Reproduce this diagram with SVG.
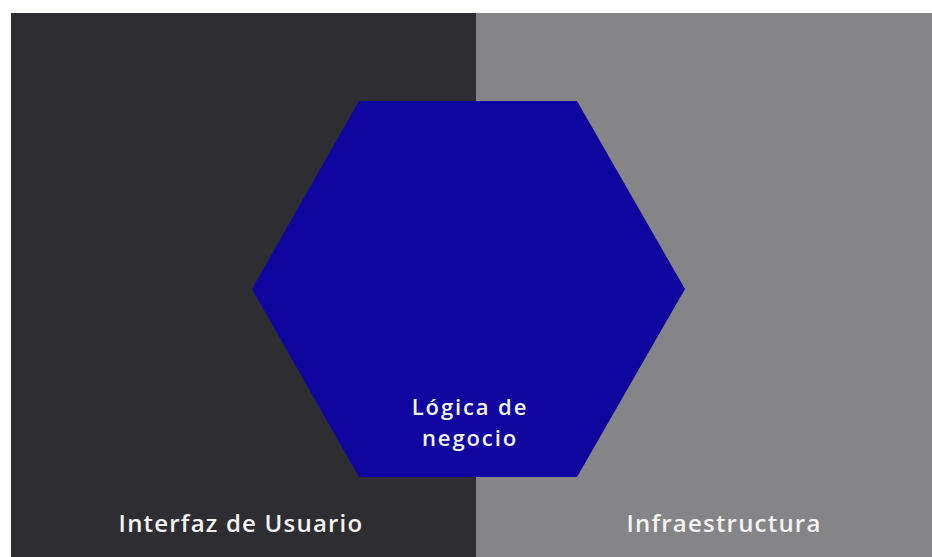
<svg xmlns="http://www.w3.org/2000/svg" width="932" height="557" viewBox="0 0 932 557">
<style>
.lbl{font-family:"Open Sans","Liberation Sans",sans-serif;font-weight:600;fill:#f4f4f4;text-anchor:middle;font-size:24px;letter-spacing:1.2px}
.hex{font-size:22px;letter-spacing:1.9px}
</style>
<rect width="932" height="557" fill="#ffffff"/>
<g id="ui">
<rect x="11" y="13" width="465" height="544" fill="#2e2d32"/>
<text class="lbl" x="241" y="532">Interfaz de Usuario</text>
</g>
<g id="infra">
<rect x="476" y="13" width="456" height="544" fill="#858587"/>
<text class="lbl" x="724" y="532">Infraestructura</text>
</g>
<g id="logic">
<polygon points="359,101 577,101 685,289 577,477 359,477 252,289" fill="#10069f"/>
<text class="lbl hex" x="470" y="415">Lógica de</text>
<text class="lbl hex" x="470" y="446">negocio</text>
</g>
<g id="connectors"/>
</svg>
